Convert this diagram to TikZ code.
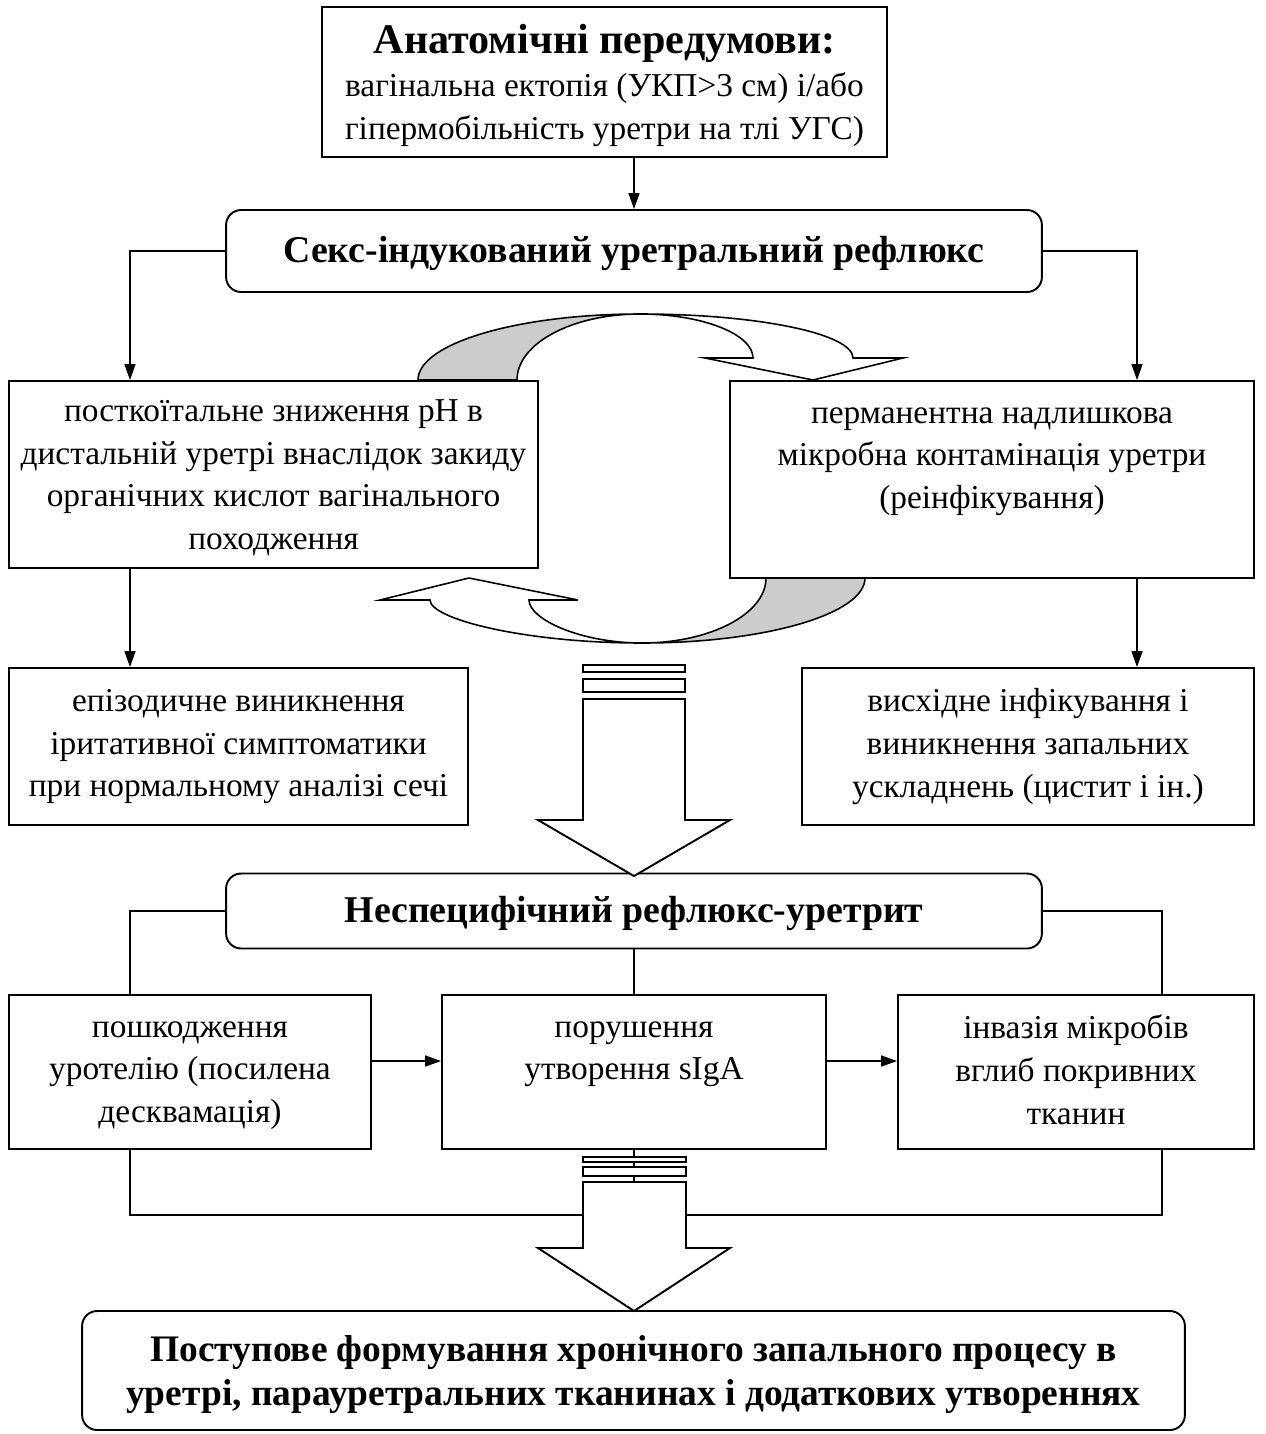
\documentclass[tikz,border=0pt]{standalone}
\usepackage{fontspec}
\setmainfont{Liberation Serif}
\usetikzlibrary{arrows.meta,positioning}

\newcommand{\boxfont}{\fontsize{19}{24.4}\selectfont}
\newcommand{\headfont}{\fontsize{21.5}{25}\selectfont\bfseries}
\newcommand{\topfont}{\fontsize{24}{25}\selectfont\bfseries}
\newcommand{\finalfont}{\fontsize{21.3}{25.5}\selectfont\bfseries}
\newcommand{\topstrut}{\rule{0pt}{21pt}}

\begin{document}
\begin{tikzpicture}[>={Triangle[length=3.2mm,width=2.2mm]},
x=0.02cm, y=-0.02cm, line width=0.9pt]

\tikzstyle{plain box}=[rectangle, draw, fill=white, line width=1.1pt,
align=center, inner sep=0pt, font=\boxfont, text depth=-1.5pt,
execute at end node=\strut]

\tikzstyle{title box}=[plain box, rounded corners=0.3cm, font=\headfont,
text depth=, execute at begin node=\topstrut]

\tikzstyle{block arrow}=[draw, fill=white, line width=1.1pt]

\useasboundingbox (0,0) rectangle (1265,1434);

%top
\node[plain box, minimum width=11.3cm, minimum height=3cm, text depth=0.5pt]
(anat) at (604.5,82)
{{\topfont Анатомічні передумови:}\\вагінальна ектопія (УКП>3 см) і/або\\гіпермобільність уретри на тлі УГС)};

\node[title box, minimum width=16.32cm, minimum height=1.64cm]
(reflux) at (634,251)
{Секс-індукований уретральний рефлюкс};

\node[plain box, minimum width=10.58cm, minimum height=3.74cm]
(phbox) at (273.5,474.5)
{посткоїтальне зниження pH в\\дистальній уретрі внаслідок закиду\\органічних кислот вагінального\\походження};

\node[plain box, minimum width=10.48cm, minimum height=3.94cm]
(microbe) at (992,479.5)
{перманентна надлишкова\\мікробна контамінація уретри\\(реінфікування)\\~};

\node[plain box, minimum width=9.18cm, minimum height=3.14cm, text depth=4pt]
(irrit) at (238.5,746.5)
{епізодичне виникнення\\іритативної симптоматики\\при нормальному аналізі сечі};

\node[plain box, minimum width=9.04cm, minimum height=3.14cm, text depth=4pt]
(ascend) at (1028,746.5)
{висхідне інфікування і\\виникнення запальних\\ускладнень (цистит і ін.)};

%middle
\node[title box, minimum width=16.32cm, minimum height=1.5cm]
(urethritis) at (634,911)
{Неспецифічний рефлюкс-уретрит};

\node[plain box, minimum width=7.24cm, minimum height=3.08cm]
(damage) at (190,1072)
{пошкодження\\уротелію (посилена\\десквамація)};

\node[plain box, minimum width=7.68cm, minimum height=3.08cm]
(siga) at (634,1072)
{порушення\\утворення sIgA\\~};

\node[plain box, minimum width=7.12cm, minimum height=3.08cm, text depth=2.5pt]
(invasion) at (1076,1072)
{інвазія мікробів\\вглиб покривних\\тканин};

%bottom
\node[title box, minimum width=22.06cm, minimum height=2.38cm, font=\finalfont, text depth=-3.7pt]
(final) at (633.5,1370.5)
{Поступове формування хронічного запального процесу в\\уретрі, парауретральних тканинах і додаткових утвореннях};

\coordinate (colL) at (130,0);
\coordinate (colR) at (1137,0);
\coordinate (colRR) at (1162,0);
\coordinate (midrow) at (0,1061);
\coordinate (frameB) at (634,1215);

\draw[->] (anat.south -| reflux.north) -- (reflux.north);
\draw[->] (reflux.west) -| (phbox.north -| colL);
\draw[->] (reflux.east) -| (microbe.north -| colR);
\draw[->] (phbox.south -| colL) -- (irrit.north -| colL);
\draw[->] (microbe.south -| colR) -- (ascend.north -| colR);

\draw (urethritis.west) -| (damage.north -| colL);
\draw (urethritis.east) -| (invasion.north -| colRR);
\draw (urethritis.south) -- (siga.north);
\draw[->] (damage.east |- midrow) -- (siga.west |- midrow);
\draw[->] (siga.east |- midrow) -- (invasion.west |- midrow);
\draw (damage.south -| colL) |- (frameB) -| (invasion.south -| colRR);
\draw (siga.south) -- (frameB);

%curved arrows
\draw[fill=black!20] (418,380) .. controls (418,343.5) and (517.4,314) .. (640,314)
  .. controls (572,314) and (517,343.5) .. (517,380) -- cycle;
\draw[fill=white] (640,314) .. controls (757.6,314) and (853,333.7) .. (853,358)
  -- (903,358) -- (813,380) -- (705,358) -- (753,358)
  .. controls (753,334) and (702,314) .. (640,314) -- cycle;

\draw[fill=black!20] (865,578) .. controls (865,614) and (765,643) .. (642,643)
  .. controls (710,643) and (766,614) .. (766,578) -- cycle;
\draw[fill=white] (642,643) .. controls (525,643) and (430,619) .. (430,600)
  -- (380,600) -- (469,578) -- (578,600) -- (529,600)
  .. controls (529,619) and (580,643) .. (642,643) -- cycle;

%block arrows
\draw[block arrow] (583,665) rectangle (685,672);
\draw[block arrow] (583,679) rectangle (685,692);
\draw[block arrow] (583,699) -- (583,820) -- (538,820) -- (634,876)
  -- (730,820) -- (685,820) -- (685,699) -- cycle;

\draw[block arrow] (583,1157) rectangle (686,1162);
\draw[block arrow] (583,1167) rectangle (686,1176);
\draw[block arrow] (583,1182) -- (583,1248) -- (538,1248) -- (634,1311)
  -- (730,1248) -- (686,1248) -- (686,1182) -- cycle;

\end{tikzpicture}
\end{document}
